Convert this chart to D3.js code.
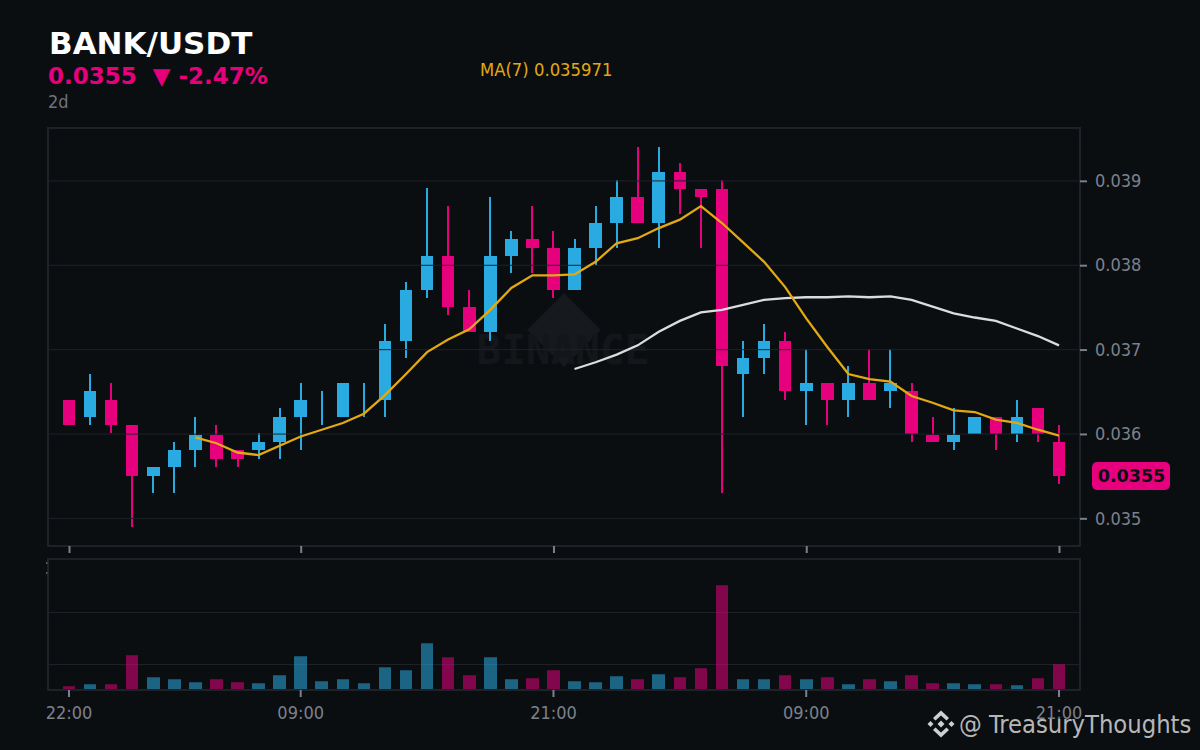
<!DOCTYPE html>
<html>
<head>
<meta charset="utf-8">
<script src="https://cdn.jsdelivr.net/npm/d3@7"></script>
<style>
  html, body { margin: 0; padding: 0; background: #0b0e11; }
  svg { display: block; }
</style>
</head>
<body>
<script>
// candle values
const opens = [.0364,.0362,.0364,.0361,.0355,.0356,.0358,.03598,.0358,.0358,.0359,.0362,.0363,.0362,.0364,.0364,
  .0371,.0377,.0381,.0375,.0372,.0381,.0383,.0382,.0377,.0382,.0385,.0388,.0385,.0391,.0389,.0389,
  .0367,.0369,.0371,.0365,.0366,.0364,.0366,.0365,.0365,.03598,.0359,.03599,.0362,.03599,.0363,.0359];
const closes = [.0361,.0365,.0361,.0355,.0356,.0358,.03598,.0357,.0357,.0359,.0362,.0364,.0363,.0366,.0364,.0371,
  .0377,.0381,.0375,.0372,.0381,.0383,.0382,.0377,.0382,.0385,.0388,.0385,.0391,.0389,.0388,.0368,
  .0369,.0371,.0365,.0366,.0364,.0366,.0364,.0366,.03599,.0359,.03598,.0362,.03599,.0362,.03599,.0355];
const highs = [.0364,.0367,.0366,.0361,.0356,.0359,.0362,.0361,.0358,.0360,.0363,.0366,.0365,.0366,.0366,.0373,
  .0378,.03891,.0387,.0377,.0388,.0384,.0387,.0384,.0383,.0387,.0390,.0394,.0394,.0392,.0389,.0390,
  .0371,.0373,.0372,.0370,.0366,.0368,.0370,.0370,.0366,.0362,.0363,.0362,.0362,.0364,.0363,.0361];
const lows = [.0361,.0361,.0360,.03489,.0353,.0353,.0356,.0356,.0356,.0357,.0357,.0358,.0361,.0362,.0362,.0362,
  .0369,.0376,.0374,.0372,.0371,.0379,.0379,.0376,.0377,.0380,.0382,.0385,.0382,.0386,.0382,.0353,
  .0362,.0367,.0364,.0361,.0361,.0362,.0364,.0363,.0359,.0359,.0358,.0360,.0358,.0359,.0359,.0354];

// MA lines start part way along the candles
const ma7Start = 6;
const ma7 = [.03596,.03589,.03578,.03575,.03586,.03597,.03605,.03613,.03624,.03646,.03671,.03697,.03712,.03724,
  .03747,.03773,.03788,.03788,.03789,.03804,.03826,.03832,.03844,.03854,.03870,.03850,.03827,.03804,.03774,.03737,
  .03703,.03671,.03665,.03662,.03645,.03637,.03628,.03626,.03617,.03613,.03605,.03598];
const ma25Start = 24;
const ma25 = [.03677,.03685,.03694,.03705,.03721,.03734,.03744,.03747,.03753,.03759,.03761,.03762,.03762,.03763,
  .03762,.03763,.03759,.03751,.03743,.03738,.03734,.03725,.03716,.03705];

const volumes = [.13,.21,.21,1.37,.49,.41,.29,.41,.29,.25,.57,1.33,.33,.41,.25,.89,.77,1.85,1.29,.57,1.29,.41,.45,.77,
  .33,.29,.53,.41,.61,.49,.85,4.17,.41,.41,.57,.41,.49,.21,.41,.33,.57,.25,.25,.21,.21,.17,.45,1.01];

const priceTicks = [.035,.036,.037,.038,.039];
const volumeTicks = [1,3.08];
const timeTickIndex = [0,11,23,35,47];
const timeTickLabels = ['22:00','09:00','21:00','09:00','21:00'];

const width = 1200, height = 750;
const bg = '#0b0e11', gridColor = '#1e2227', tickColor = '#7b818b';
const upColor = '#29abe2', downColor = '#e6007e', gold = '#e2a912';
const sans = '"DejaVu Sans", sans-serif', narrow = '"DejaVu Sans Condensed", "DejaVu Sans", sans-serif';

const main = { left: 48, right: 1080, top: 128, bottom: 546 };
const vol = { left: 48, right: 1080, top: 559, bottom: 690 };

const x = d3.scaleLinear().domain([0, opens.length - 1]).range([69, 1059]);
const y = d3.scaleLinear().domain([0.034672, 0.039626]).range([main.bottom, main.top]);
const yVol = d3.scaleLinear().domain([0, 5.2]).range([689.5, 559.5]);

const svg = d3.select('body').append('svg')
  .attr('width', width)
  .attr('height', height)
  .attr('viewBox', `0 0 ${width} ${height}`)
  .style('font-family', sans);

svg.append('rect').attr('width', width).attr('height', height).attr('fill', bg);

// Header
svg.append('text').attr('x', 49).attr('y', 53.5).attr('fill', '#fff')
  .attr('font-size', 31).attr('font-weight', 'bold').text('BANK/USDT');
svg.append('text').attr('x', 48).attr('y', 84).attr('fill', downColor)
  .attr('font-size', 23).attr('font-weight', 'bold').style('white-space', 'pre').text('0.0355  ▼ -2.47%');
svg.append('text').attr('x', 48).attr('y', 108).attr('fill', '#6d737d')
  .style('font-family', narrow).attr('font-size', 18).text('2d');
svg.append('text').attr('x', 480).attr('y', 76).attr('fill', gold)
  .style('font-family', narrow).attr('font-size', 18.3).text('MA(7) 0.035971');

// Binance watermark behind the candles
const mark = svg.append('g').attr('class', 'watermark');
mark.append('rect').attr('x', -26).attr('y', -26).attr('width', 52).attr('height', 52)
  .attr('transform', 'translate(564,330) rotate(45)').attr('fill', '#16191d');
mark.append('text').attr('x', 563).attr('y', 364).attr('text-anchor', 'middle')
  .style('font-family', '"DejaVu Sans Mono", monospace').attr('font-weight', 'bold')
  .attr('font-size', 41).attr('fill', '#13161a').text('BINANCE');

// Panel grids
svg.append('g').selectAll('line').data(volumeTicks).enter().append('line')
  .attr('x1', vol.left).attr('x2', vol.right)
  .attr('y1', d => Math.floor(yVol(d)) + 0.5).attr('y2', d => Math.floor(yVol(d)) + 0.5)
  .attr('stroke', gridColor).attr('stroke-width', 1);

// Volume bars
svg.append('g').selectAll('rect').data(volumes).enter().append('rect')
  .attr('x', (d, i) => Math.round(x(i) - 6.3))
  .attr('width', (d, i) => Math.round(x(i) + 6.3) - Math.round(x(i) - 6.3))
  .attr('y', d => yVol(d))
  .attr('height', d => yVol(0) - yVol(d))
  .attr('fill', (d, i) => closes[i] >= opens[i] ? upColor : downColor)
  .attr('fill-opacity', 0.55);

// Candles
const candles = svg.append('g').selectAll('g').data(opens).enter().append('g')
  .attr('fill', (d, i) => closes[i] >= opens[i] ? upColor : downColor);
candles.append('rect')
  .attr('x', (d, i) => Math.round(x(i)) - 1)
  .attr('width', 2)
  .attr('y', (d, i) => Math.floor(y(highs[i])))
  .attr('height', (d, i) => Math.floor(y(lows[i])) - Math.floor(y(highs[i])));
candles.append('rect')
  .attr('x', (d, i) => Math.round(x(i) - 6.3))
  .attr('width', (d, i) => Math.round(x(i) + 6.3) - Math.round(x(i) - 6.3))
  .attr('y', (d, i) => Math.floor(y(Math.max(opens[i], closes[i]))))
  .attr('height', (d, i) => Math.floor(y(Math.min(opens[i], closes[i]))) - Math.floor(y(Math.max(opens[i], closes[i]))));

// Price grid sits over the candles
svg.append('g').selectAll('line').data(priceTicks).enter().append('line')
  .attr('x1', main.left).attr('x2', main.right)
  .attr('y1', d => y(d) + 0.1).attr('y2', d => y(d) + 0.1)
  .attr('stroke', gridColor).attr('stroke-width', 1);

// MA lines
const maLine = start => d3.line().x((d, i) => x(i + start)).y(d => y(d));
svg.append('path').attr('d', maLine(ma25Start)(ma25))
  .attr('fill', 'none').attr('stroke', '#dcdcdc').attr('stroke-width', 2.3);
svg.append('path').attr('d', maLine(ma7Start)(ma7))
  .attr('fill', 'none').attr('stroke', gold).attr('stroke-width', 2.3);

// Panel frames
[main, vol].forEach(p => {
  svg.append('rect').attr('x', p.left).attr('y', p.top)
    .attr('width', p.right - p.left).attr('height', p.bottom - p.top)
    .attr('fill', 'none').attr('stroke', gridColor).attr('stroke-width', 2);
});

// Clipped remains of a hidden volume label, left of the lower frame
svg.append('g').selectAll('rect').data([562, 572]).enter().append('rect')
  .attr('x', 46).attr('y', d => d).attr('width', 1.5).attr('height', 2).attr('fill', '#555a62');

// Axes
function styleAxis(g) {
  g.select('.domain').remove();
  g.selectAll('line').attr('stroke', tickColor).attr('stroke-width', 2);
  g.selectAll('text').attr('fill', tickColor).attr('font-size', 18).style('font-family', narrow);
}

svg.append('g').attr('transform', `translate(${main.right},0)`)
  .call(d3.axisRight(y).tickValues(priceTicks).tickSize(7).tickPadding(8).tickFormat(d3.format('.3f')))
  .call(styleAxis);

svg.append('g').attr('transform', `translate(0,${main.bottom})`)
  .call(d3.axisBottom(x).tickValues(timeTickIndex).tickSize(7).tickFormat(''))
  .call(styleAxis);

svg.append('g').attr('transform', `translate(-0.5,${vol.bottom})`)
  .call(d3.axisBottom(x).tickValues(timeTickIndex).tickSize(7).tickPadding(9)
    .tickFormat(d => timeTickLabels[timeTickIndex.indexOf(d)]))
  .call(styleAxis);

// Last price tag
svg.append('rect').attr('x', 1092).attr('y', 462).attr('width', 78).attr('height', 28)
  .attr('rx', 5).attr('fill', downColor);
svg.append('text').attr('x', 1131.5).attr('y', 481.5).attr('text-anchor', 'middle')
  .attr('font-size', 17.5).attr('font-weight', 'bold').attr('fill', '#0b0e11')
  .text(d3.format('.4f')(closes[closes.length - 1]));

// Author watermark, bottom right
const logo = svg.append('g').attr('transform', 'translate(941,724)').attr('fill', '#cfcfcf');
const diamond = (cx, cy, r) => `M${cx - r},${cy}L${cx},${cy - r}L${cx + r},${cy}L${cx},${cy + r}Z`;
logo.append('path').attr('d', diamond(0, 0, 3.5));
logo.append('path').attr('d', diamond(-10.5, 0, 3));
logo.append('path').attr('d', diamond(10.5, 0, 3));
logo.append('path').attr('d', 'M-8,-6L0,-13.5L8,-6L5.5,-3.5L0,-8.5L-5.5,-3.5Z');
logo.append('path').attr('d', 'M-8,6L0,13.5L8,6L5.5,3.5L0,8.5L-5.5,3.5Z');
svg.append('text').attr('x', 959).attr('y', 733).attr('fill', '#cfcfcf').attr('fill-opacity', 0.9)
  .style('font-family', narrow).attr('font-size', 25.3).text('@ TreasuryThoughts');
</script>
</body>
</html>
